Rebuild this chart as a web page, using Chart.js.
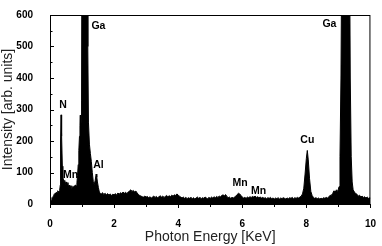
<!DOCTYPE html>
<html lang="en">
<head>
    <meta charset="UTF-8">
    <title>EDX spectrum</title>
    <style>
        html, body { margin: 0; padding: 0; background: #fff; }
        #wrap { width: 382px; height: 246px; }
    </style>
</head>
<body>
    <div id="wrap">
        <canvas id="myChart" width="382" height="246"></canvas>
    </div>
</body>
<script src="https://cdn.jsdelivr.net/npm/chart.js@4.4.0/dist/chart.umd.min.js"></script>
<script>
    // photon energy (keV) and counts
    var energy = [
        0.00, 0.02, 0.04, 0.06, 0.08, 0.10, 0.12, 0.14, 0.16, 0.18, 0.20, 0.22, 0.24, 0.26, 0.28, 0.30,
        0.32, 0.33, 0.345, 0.355, 0.37, 0.385, 0.40, 0.42, 0.44, 0.46, 0.48, 0.50, 0.52, 0.54, 0.56,
        0.58, 0.60, 0.62, 0.64, 0.66, 0.68, 0.70, 0.72, 0.74, 0.76, 0.78, 0.80, 0.82, 0.84, 0.86,
        0.88, 0.90, 0.92, 0.935, 0.945, 0.955, 0.97, 0.985, 1.00, 1.02, 1.06, 1.10, 1.14, 1.165,
        1.18, 1.20, 1.23, 1.26, 1.29, 1.32, 1.35, 1.38, 1.41, 1.44, 1.46, 1.48, 1.51, 1.54, 1.57,
        1.60, 1.64, 1.68, 1.72, 1.76, 1.80, 1.84, 1.88, 1.92, 1.96, 2.00, 2.04, 2.08, 2.12, 2.16,
        2.20, 2.24, 2.28, 2.32, 2.36, 2.40, 2.44, 2.48, 2.52, 2.56, 2.60, 2.64, 2.68, 2.72, 2.76,
        2.80, 2.84, 2.88, 2.92, 2.96, 3.00, 3.04, 3.08, 3.12, 3.16, 3.20, 3.24, 3.28, 3.32, 3.36,
        3.40, 3.44, 3.48, 3.52, 3.56, 3.60, 3.64, 3.68, 3.72, 3.76, 3.80, 3.84, 3.88, 3.92, 3.96,
        4.00, 4.04, 4.08, 4.12, 4.16, 4.20, 4.24, 4.28, 4.32, 4.36, 4.40, 4.44, 4.48, 4.52, 4.56,
        4.60, 4.64, 4.68, 4.72, 4.76, 4.80, 4.84, 4.88, 4.92, 4.96, 5.00, 5.04, 5.08, 5.12, 5.16,
        5.20, 5.24, 5.28, 5.32, 5.36, 5.40, 5.44, 5.48, 5.52, 5.56, 5.60, 5.64, 5.68, 5.72, 5.76,
        5.80, 5.84, 5.88, 5.92, 5.96, 6.00, 6.04, 6.08, 6.12, 6.16, 6.20, 6.24, 6.28, 6.32, 6.36,
        6.40, 6.44, 6.48, 6.52, 6.56, 6.60, 6.64, 6.68, 6.72, 6.76, 6.80, 6.84, 6.88, 6.92, 6.96,
        7.00, 7.04, 7.08, 7.12, 7.16, 7.20, 7.24, 7.28, 7.32, 7.36, 7.40, 7.44, 7.48, 7.52, 7.56,
        7.60, 7.64, 7.68, 7.72, 7.76, 7.80, 7.84, 7.88, 7.92, 7.96, 8.00, 8.03, 8.06, 8.10, 8.14,
        8.18, 8.22, 8.26, 8.30, 8.34, 8.38, 8.42, 8.46, 8.50, 8.54, 8.58, 8.62, 8.66, 8.70, 8.74,
        8.78, 8.82, 8.86, 8.90, 8.94, 8.98, 9.02, 9.05, 9.08, 9.11, 9.14, 9.20, 9.28, 9.34, 9.37,
        9.40, 9.43, 9.46, 9.50, 9.54, 9.58, 9.62, 9.66, 9.70, 9.74, 9.78, 9.82, 9.86, 9.90, 9.94,
        9.98, 10.00
    ];
    var counts = [
        0, 5, 12, 20, 18, 25, 30, 28, 35, 32, 38, 36, 42, 40, 38, 42,
        60, 200, 283, 230, 215, 120, 72, 78, 70, 75, 62, 70, 58, 64, 68,
        52, 60, 48, 56, 50, 58, 47, 55, 50, 58, 52, 60, 58, 68, 90,
        125, 170, 215, 250, 282, 240, 260, 330, 1000, 2000, 2600, 2600, 2000, 1000,
        500, 260, 190, 160, 135, 100, 72, 62, 75, 95, 85, 70, 52, 38, 33,
        32, 36, 30, 34, 29, 33, 28, 32, 27, 31, 29, 33, 28, 35, 31,
        36, 33, 38, 34, 37, 33, 38, 41, 45, 40, 43, 38, 41, 35, 30,
        27, 25, 23, 22, 25, 22, 24, 20, 23, 19, 22, 25, 21, 24, 20,
        23, 26, 22, 25, 21, 24, 27, 23, 26, 24, 28, 25, 29, 27, 32,
        28, 25, 22, 19, 22, 18, 21, 17, 20, 18, 21, 17, 20, 16, 19,
        22, 18, 21, 17, 20, 18, 22, 19, 17, 21, 18, 22, 19, 23, 20,
        24, 21, 25, 23, 27, 29, 26, 30, 24, 20, 22, 18, 21, 19, 22,
        25, 30, 34, 32, 27, 22, 19, 21, 18, 22, 20, 23, 21, 24, 22,
        25, 21, 23, 20, 22, 19, 21, 18, 20, 17, 20, 18, 21, 17, 19,
        16, 19, 17, 20, 16, 19, 17, 20, 18, 16, 19, 17, 20, 18, 21,
        17, 20, 18, 21, 19, 22, 25, 32, 50, 95, 145, 170, 140, 80, 40,
        27, 21, 18, 20, 17, 19, 16, 18, 17, 20, 18, 21, 19, 23, 27,
        28, 33, 42, 38, 45, 40, 55, 150, 400, 900, 1500, 2600, 2600, 1000, 400,
        150, 70, 45, 38, 33, 31, 25, 28, 22, 25, 21, 23, 19, 22, 18,
        20, 19
    ];
    var xTicks = [0, 2, 4, 6, 8, 10];
    var yTicks = [0, 100, 200, 300, 400, 500, 600];

    // element labels on the peaks
    var peakNames = ['Ga', 'N', 'Mn', 'Al', 'Mn', 'Mn', 'Cu', 'Ga'];
    var peakNameX = [1.51, 0.41, 0.64, 1.51, 5.93, 6.51, 8.03, 8.72];
    var peakNameY = [565, 313, 92, 123, 67, 42, 202, 570];

    var points = energy.map(function (e, i) { return { x: e, y: counts[i] }; });

    // frame, ticks (x outward, y inward) and peak labels
    var framePlugin = {
        id: 'frame',
        afterDatasetsDraw: function (chart) {
            var c = chart.ctx, a = chart.chartArea;
            var xs = chart.scales.x, ys = chart.scales.y;
            c.save();
            c.strokeStyle = '#000';
            c.lineWidth = 1;
            c.strokeRect(a.left + 0.5, a.top + 0.5, a.right - a.left - 1, a.bottom - a.top);
            c.beginPath();
            for (var v = 0; v <= 10; v++) {
                var px = Math.round(xs.getPixelForValue(v)) + 0.5;
                c.moveTo(px, a.bottom);
                c.lineTo(px, a.bottom + (v % 2 === 0 ? 4 : 3));
            }
            for (var w = 0; w <= 600; w += 50) {
                var py = Math.round(ys.getPixelForValue(w)) + 0.5;
                c.moveTo(a.left, py);
                c.lineTo(a.left + (w % 100 === 0 ? 4 : 2.5), py);
            }
            c.stroke();
            c.fillStyle = '#000';
            c.font = 'bold 10.5px "Liberation Sans", Arial, sans-serif';
            c.textAlign = 'center';
            c.textBaseline = 'middle';
            for (var i = 0; i < peakNames.length; i++) {
                c.fillText(peakNames[i], xs.getPixelForValue(peakNameX[i]), ys.getPixelForValue(peakNameY[i]));
            }
            c.restore();
        }
    };

    var ctx = document.getElementById('myChart').getContext('2d');
    var myChart = new Chart(ctx, {
        type: 'line',
        data: {
            datasets: [{
                data: points,
                borderColor: '#000',
                backgroundColor: '#000',
                borderWidth: 1,
                pointRadius: 0,
                fill: 'origin',
                tension: 0,
                clip: 0
            }]
        },
        options: {
            responsive: false,
            animation: false,
            events: [],
            layout: { autoPadding: false, padding: { top: 5, right: 6, left: 0, bottom: 0 } },
            plugins: { legend: { display: false }, tooltip: { enabled: false } },
            scales: {
                x: {
                    type: 'linear',
                    min: 0,
                    max: 10,
                    afterBuildTicks: function (s) { s.ticks = xTicks.map(function (v) { return { value: v }; }); },
                    afterFit: function (s) { s.height = 42; },
                    grid: { display: false },
                    border: { display: false },
                    ticks: {
                        padding: 6,
                        maxRotation: 0,
                        color: '#000',
                        font: { family: '"Liberation Sans", Arial, sans-serif', size: 10, weight: 'bold' }
                    },
                    title: {
                        display: true,
                        text: 'Photon Energy [KeV]',
                        color: '#222',
                        padding: { top: 0, bottom: 0 },
                        font: { family: '"Liberation Sans", Arial, sans-serif', size: 14 }
                    }
                },
                y: {
                    min: 0,
                    max: 600,
                    afterBuildTicks: function (s) { s.ticks = yTicks.map(function (v) { return { value: v }; }); },
                    afterFit: function (s) { s.width = 50; },
                    grid: { display: false },
                    border: { display: false },
                    ticks: {
                        padding: 9,
                        color: '#000',
                        font: { family: '"Liberation Sans", Arial, sans-serif', size: 10, weight: 'bold' }
                    },
                    title: {
                        display: true,
                        text: 'Intensity [arb. units]',
                        color: '#222',
                        padding: { top: 0, bottom: 0 },
                        font: { family: '"Liberation Sans", Arial, sans-serif', size: 14 }
                    }
                }
            }
        },
        plugins: [framePlugin]
    });
</script>
</html>
